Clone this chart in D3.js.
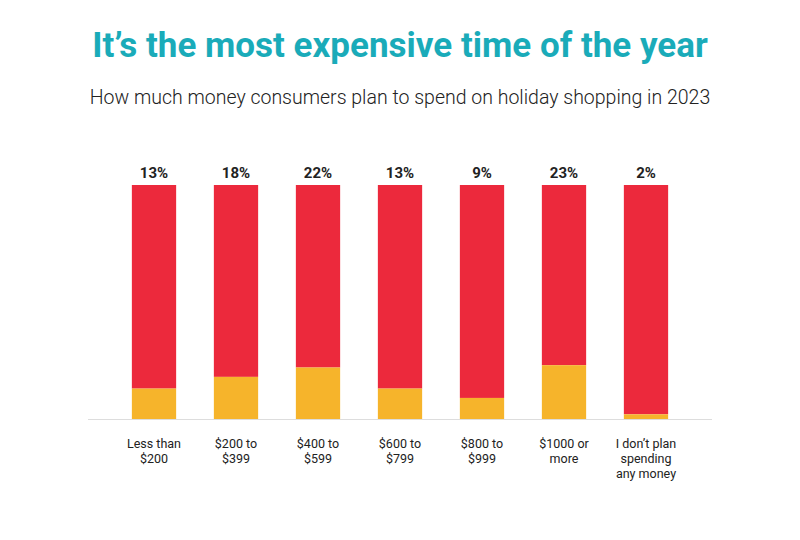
<!DOCTYPE html><html><head><meta charset="utf-8">
<script src="https://cdn.jsdelivr.net/npm/d3@7"></script>
<style>body{margin:0;background:#fff}</style></head><body>
<svg id="c" width="800" height="540"></svg>
<script>
const categories=[["Less than","$200"],["$200 to","$399"],["$400 to","$599"],["$600 to","$799"],["$800 to","$999"],["$1000 or","more"],["I don’t plan","spending","any money"]];
const values=[13,18,22,13,9,23,2];
const svg=d3.select("#c");
svg.append("text").attr("x",400).attr("y",57).attr("text-anchor","middle").attr("font-family","Roboto").attr("font-weight","bold").attr("font-size",35).attr("fill","#1aabb9").text("It’s the most expensive time of the year");
svg.append("text").attr("x",400).attr("y",104).attr("text-anchor","middle").attr("font-family","Roboto").attr("font-weight","300").attr("font-size",19.5).attr("fill","#222").text("How much money consumers plan to spend on holiday shopping in 2023");
const x=d3.scaleBand().domain(d3.range(values.length)).range([113,687]).paddingInner(0.46).paddingOuter(0.23);
const y=d3.scaleLinear().domain([0,100]).range([419,185]);
const g=svg.append("g");
values.forEach((v,i)=>{
 g.append("rect").attr("x",x(i)).attr("width",x.bandwidth()).attr("y",y(100)).attr("height",y(v)-y(100)).attr("fill","#ec293c");
 g.append("rect").attr("x",x(i)).attr("width",x.bandwidth()).attr("y",y(v)).attr("height",y(0)-y(v)).attr("fill","#f6b42b");
 g.append("text").attr("x",x(i)+x.bandwidth()/2).attr("y",178).attr("text-anchor","middle").attr("font-family","Roboto").attr("font-weight","bold").attr("font-size",15).attr("fill","#222").text(v+"%");
 const t=g.append("text").attr("text-anchor","middle").attr("font-family","Roboto").attr("font-size",12.5).attr("fill","#222");
 categories[i].forEach((l,j)=>t.append("tspan").attr("x",x(i)+x.bandwidth()/2).attr("y",448+j*15).text(l));
});
svg.append("line").attr("x1",88).attr("x2",712).attr("y1",419.5).attr("y2",419.5).attr("stroke","#ddd");
</script></body></html>
